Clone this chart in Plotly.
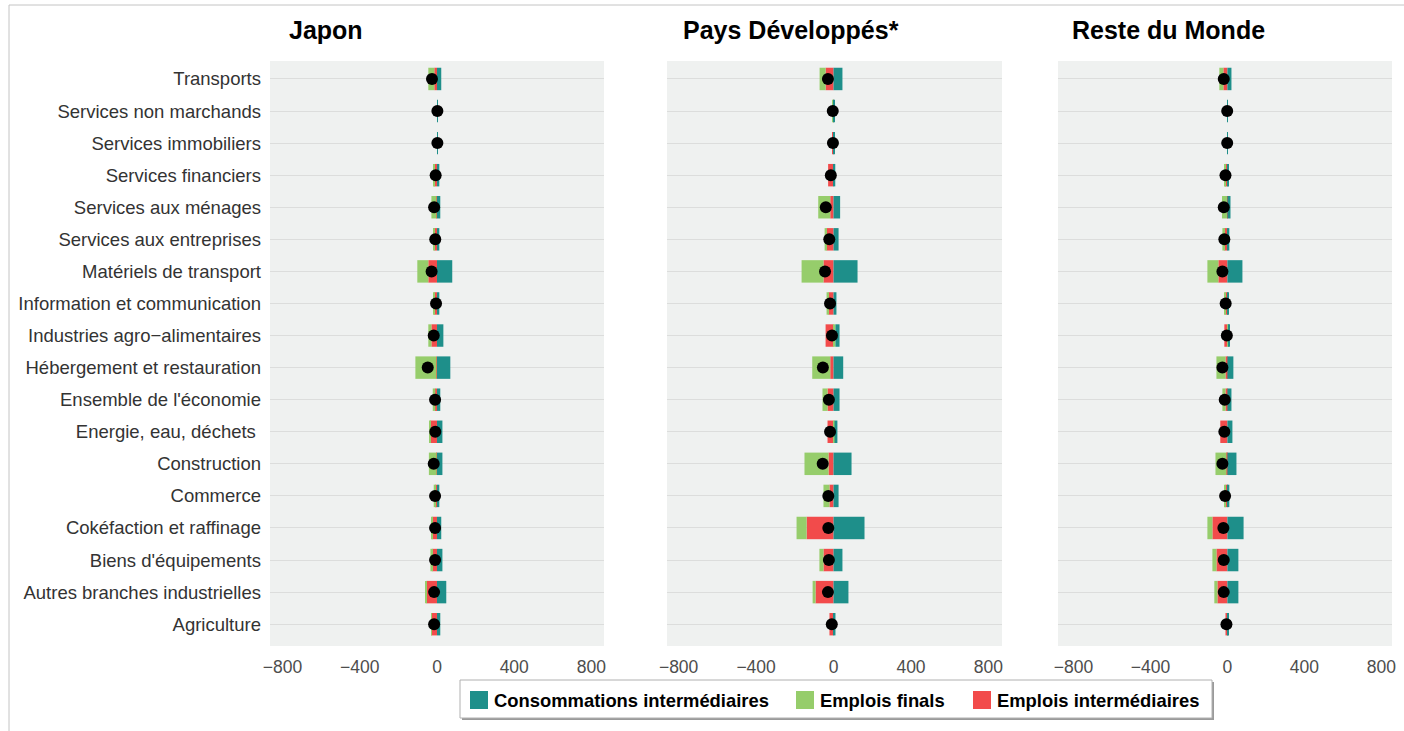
import plotly.graph_objects as go

# ---------------- data ----------------
categories = [
    "Transports", "Services non marchands", "Services immobiliers",
    "Services financiers", "Services aux ménages", "Services aux entreprises",
    "Matériels de transport", "Information et communication",
    "Industries agro\u2212alimentaires", "Hébergement et restauration",
    "Ensemble de l'économie", "Energie, eau, déchets ", "Construction",
    "Commerce", "Cokéfaction et raffinage", "Biens d'équipements",
    "Autres branches industrielles", "Agriculture",
]

panels = ["Japon", "Pays Développés*", "Reste du Monde"]

series_names = ["Consommations intermédiaires", "Emplois finals", "Emplois intermédiaires"]

# Japon
jp_ci = [22, 3, 3, 12, 17, 12, 79, 12, 33, 69, 17, 28, 28, 12, 22, 28, 48, 17]
jp_ef = [-31, 0, 0, -3, -26, -5, -57, -2, -16, -109, -13, -2, -40, -7, -5, -10, -5, -2]
jp_ei = [-14, 0, 0, -13, -3, -14, -45, -14, -29, -3, -9, -35, -2, -10, -24, -24, -55, -29]
jp_tot = [-26, 2, 2, -7, -15, -9, -28, -5, -17, -48, -10, -9, -17, -10, -10, -10, -15, -15]

# Pays Développés*
pd_ci = [46, 5, 5, 9, 34, 26, 124, 15, 21, 50, 31, 15, 93, 26, 160, 46, 77, 10]
pd_ef = [-31, -3, 0, 0, -62, -10, -113, -10, 10, -93, -26, 5, -124, -31, -52, -21, -15, 0]
pd_ei = [-41, -1, -4, -28, -17, -36, -52, -26, -41, -17, -31, -31, -26, -21, -139, -52, -93, -21]
pd_tot = [-29, -4, -3, -14, -40, -22, -44, -18, -8, -55, -24, -18, -56, -27, -27, -24, -29, -9]

# Reste du Monde
rm_ci = [21, 3, 3, 5, 16, 10, 78, 5, 5, 31, 21, 26, 47, 10, 84, 57, 57, 5]
rm_ef = [-21, 0, 0, -3, -26, -10, -57, -5, 5, -47, -16, 0, -57, -5, -26, -21, -16, 0]
rm_ei = [-21, 0, 0, -12, -2, -16, -47, -10, -16, -10, -10, -37, -5, -10, -78, -57, -52, -10]
rm_tot = [-19, -1, -1, -10, -19, -16, -26, -9, -3, -26, -14, -16, -26, -12, -21, -19, -19, -5]

x_ticks = [-800, -400, 0, 400, 800]

# ---------------- styling ----------------
W, H = 1404, 731
C_CI = "#1e8f8a"
C_EF = "#96cd6b"
C_EI = "#f24b4b"
BG = "#eff1f0"
GRID = "#dcdddc"
FONT = "Liberation Sans, Arial, sans-serif"

def px(x):
    return x / W

def py(y):
    return 1 - y / H

domains_x = [(270, 604), (667, 1002), (1058, 1392)]
x_ranges = [[-865, 865], [-860, 870], [-880, 855]]
y_dom = [py(646), py(61)]

fig = go.Figure()

data = [
    (jp_ci, jp_ef, jp_ei, jp_tot),
    (pd_ci, pd_ef, pd_ei, pd_tot),
    (rm_ci, rm_ef, rm_ei, rm_tot),
]

for i, (ci, ef, ei, tot) in enumerate(data):
    xa = "x" if i == 0 else f"x{i+1}"
    ya = "y" if i == 0 else f"y{i+1}"
    fig.add_trace(go.Bar(y=categories, x=ei, orientation="h", name=series_names[2],
                         marker=dict(color=C_EI, line=dict(width=0)),
                         xaxis=xa, yaxis=ya, showlegend=False))
    fig.add_trace(go.Bar(y=categories, x=ef, orientation="h", name=series_names[1],
                         marker=dict(color=C_EF, line=dict(width=0)),
                         xaxis=xa, yaxis=ya, showlegend=False))
    fig.add_trace(go.Bar(y=categories, x=ci, orientation="h", name=series_names[0],
                         marker=dict(color=C_CI, line=dict(width=0)),
                         xaxis=xa, yaxis=ya, showlegend=False))
    fig.add_trace(go.Scatter(y=categories, x=tot, mode="markers", name="Total",
                             marker=dict(color="black", size=12),
                             xaxis=xa, yaxis=ya, showlegend=False))

layout = dict(
    width=W, height=H, autosize=False,
    margin=dict(l=0, r=0, t=0, b=0),
    paper_bgcolor="white", plot_bgcolor=BG,
    barmode="relative", bargap=0.3,
    font=dict(family=FONT, color="#333333"),
)

for i in range(3):
    sfx = "" if i == 0 else str(i + 1)
    layout["xaxis" + sfx] = dict(
        domain=[px(domains_x[i][0]), px(domains_x[i][1])],
        range=x_ranges[i], tickvals=x_ticks,
        showgrid=False, zeroline=False, showline=False, ticks="",
        ticklabelstandoff=8,
        tickfont=dict(size=17.5, color="#4d4d4d", family=FONT),
        anchor="y" + sfx, automargin=False, fixedrange=True,
    )
    layout["yaxis" + sfx] = dict(
        domain=y_dom, anchor="x" + sfx,
        type="category", categoryorder="array", categoryarray=categories[::-1],
        range=[-0.68, 17.56],
        showgrid=True, gridcolor=GRID, gridwidth=1,
        zeroline=False, showline=False, ticks="",
        showticklabels=(i == 0), ticklabelstandoff=8,
        tickfont=dict(size=18.5, color="#333333", family=FONT),
        automargin=False, fixedrange=True,
    )

fig.update_layout(**layout)

# panel titles
title_pos = [287, 681, 1070]
for t, x0 in zip(panels, title_pos):
    fig.add_annotation(text=f"<b>{t}</b>", x=px(x0), y=py(30), xref="paper", yref="paper",
                       xanchor="left", yanchor="middle", showarrow=False,
                       font=dict(size=25, color="black", family=FONT))

# outer border
fig.add_shape(type="rect", xref="paper", yref="paper",
              x0=px(9), x1=px(1420), y0=py(750), y1=py(5),
              line=dict(color="#c4c4c4", width=1), fillcolor="rgba(0,0,0,0)", layer="below")

# manual legend
lx0, lx1, ly0, ly1 = 460, 1212, 680, 718
fig.add_shape(type="rect", xref="paper", yref="paper",
              x0=px(lx0 + 2), x1=px(lx1 + 2), y0=py(ly1 + 2), y1=py(ly0 + 2),
              line=dict(width=0), fillcolor="#9a9a9a", layer="above")
fig.add_shape(type="rect", xref="paper", yref="paper",
              x0=px(lx0), x1=px(lx1), y0=py(ly1), y1=py(ly0),
              line=dict(color="#b0b0b0", width=1), fillcolor="white", layer="above")
leg_items = [(series_names[0], C_CI, 470), (series_names[1], C_EF, 796), (series_names[2], C_EI, 973)]
for name, col, sx in leg_items:
    fig.add_shape(type="rect", xref="paper", yref="paper",
                  x0=px(sx), x1=px(sx + 18), y0=py(709), y1=py(691),
                  line=dict(width=0), fillcolor=col, layer="above")
    fig.add_annotation(text=f"<b>{name}</b>", x=px(sx + 22), y=py(700), xref="paper", yref="paper",
                       xanchor="left", yanchor="middle", showarrow=False,
                       font=dict(size=18.4, color="black", family=FONT))

fig.write_html("out.html", config={"displayModeBar": False},
               post_script="document.body.style.margin='0';")
